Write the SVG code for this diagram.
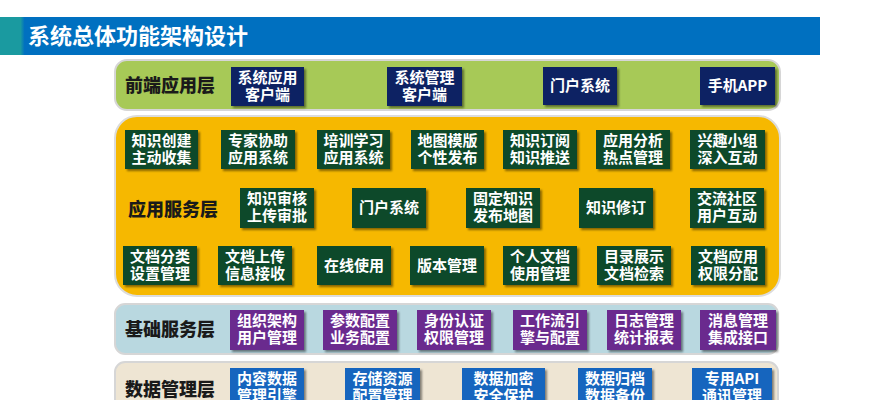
<svg xmlns="http://www.w3.org/2000/svg" width="889" height="400" viewBox="0 0 889 400">
<defs>
<filter id="sh" x="-10%" y="-10%" width="130%" height="130%">
<feDropShadow dx="2" dy="2" stdDeviation="1.2" flood-color="#000" flood-opacity="0.45"/>
</filter>
<linearGradient id="tg" x1="0" x2="1" y1="0" y2="0">
<stop offset="0" stop-color="#1A9AA0"/>
<stop offset="0.025" stop-color="#1A9AA0"/>
<stop offset="0.03" stop-color="#0070C0"/>
<stop offset="1" stop-color="#0070C0"/>
</linearGradient>
</defs>
<style>
text{font-family:"Noto Sans CJK SC","Noto Sans",sans-serif;font-weight:bold}
.t{fill:#fff;font-size:15px;text-anchor:middle}
.lab{fill:#1a1a1a;font-size:18px;font-weight:900}
.nv{fill:#0B2363}
.gr{fill:#0F4A2C}
.pu{fill:#6A2C8E}
.bl{fill:#1765BE}
.b{filter:url(#sh)}
</style>
<rect width="889" height="400" fill="#fff"/>
<g id="title">
<rect x="0" y="17" width="820" height="38" fill="url(#tg)"/>
<text x="28" y="44" fill="#fff" style="font-size:22px">系统总体功能架构设计</text>
</g>
<g id="connectors"></g>
<g id="layer-front">
<rect x="115" y="60" width="665" height="50" rx="12" fill="#A7C957" stroke="#d6d6d6" stroke-width="2"/>
<text class="lab" x="125" y="92">前端应用层</text>
</g>
<g id="layer-app">
<rect x="115" y="116" width="665" height="180" rx="22" fill="#F6B800" stroke="#dcdcdc" stroke-width="2"/>
<text class="lab" x="128" y="216">应用服务层</text>
</g>
<g id="layer-base">
<rect x="115" y="304" width="663" height="50" rx="10" fill="#B9D8E0" stroke="#d6d6d6" stroke-width="2"/>
<text class="lab" x="125" y="336">基础服务层</text>
</g>
<g id="layer-data">
<rect x="115" y="362" width="663" height="50" rx="10" fill="#EEE5D3" stroke="#d6d6d6" stroke-width="2"/>
<text class="lab" x="125" y="396">数据管理层</text>
</g>
<g id="f1"><rect class="b nv" x="231" y="67" width="73" height="39"/><text class="t" x="267.5" y="83">系统应用</text><text class="t" x="267.5" y="100">客户端</text></g>
<g id="f2"><rect class="b nv" x="387" y="67" width="75" height="39"/><text class="t" x="424.5" y="83">系统管理</text><text class="t" x="424.5" y="100">客户端</text></g>
<g id="f3"><rect class="b nv" x="543" y="67" width="74" height="38"/><text class="t" x="580" y="91">门户系统</text></g>
<g id="f4"><rect class="b nv" x="700" y="67" width="75" height="38"/><text class="t" x="737.5" y="91">手机APP</text></g>
<g id="a1"><rect class="b gr" x="125" y="130" width="73" height="39"/><text class="t" x="161.5" y="146">知识创建</text><text class="t" x="161.5" y="163">主动收集</text></g>
<g id="a2"><rect class="b gr" x="221" y="130" width="74" height="39"/><text class="t" x="258" y="146">专家协助</text><text class="t" x="258" y="163">应用系统</text></g>
<g id="a3"><rect class="b gr" x="317" y="130" width="73" height="39"/><text class="t" x="353.5" y="146">培训学习</text><text class="t" x="353.5" y="163">应用系统</text></g>
<g id="a4"><rect class="b gr" x="411" y="130" width="73" height="39"/><text class="t" x="447.5" y="146">地图模版</text><text class="t" x="447.5" y="163">个性发布</text></g>
<g id="a5"><rect class="b gr" x="503" y="130" width="74" height="39"/><text class="t" x="540" y="146">知识订阅</text><text class="t" x="540" y="163">知识推送</text></g>
<g id="a6"><rect class="b gr" x="596" y="130" width="74" height="39"/><text class="t" x="633" y="146">应用分析</text><text class="t" x="633" y="163">热点管理</text></g>
<g id="a7"><rect class="b gr" x="690" y="130" width="75" height="39"/><text class="t" x="727.5" y="146">兴趣小组</text><text class="t" x="727.5" y="163">深入互动</text></g>
<g id="a8"><rect class="b gr" x="240" y="188" width="74" height="40"/><text class="t" x="277" y="204">知识审核</text><text class="t" x="277" y="221">上传审批</text></g>
<g id="a9"><rect class="b gr" x="352" y="188" width="74" height="40"/><text class="t" x="389" y="213">门户系统</text></g>
<g id="a10"><rect class="b gr" x="466" y="188" width="74" height="40"/><text class="t" x="503" y="204">固定知识</text><text class="t" x="503" y="221">发布地图</text></g>
<g id="a11"><rect class="b gr" x="579" y="188" width="74" height="40"/><text class="t" x="616" y="213">知识修订</text></g>
<g id="a12"><rect class="b gr" x="690" y="188" width="74" height="40"/><text class="t" x="727" y="204">交流社区</text><text class="t" x="727" y="221">用户互动</text></g>
<g id="a13"><rect class="b gr" x="123" y="246" width="74" height="39"/><text class="t" x="160" y="262">文档分类</text><text class="t" x="160" y="279">设置管理</text></g>
<g id="a14"><rect class="b gr" x="218" y="246" width="74" height="39"/><text class="t" x="255" y="262">文档上传</text><text class="t" x="255" y="279">信息接收</text></g>
<g id="a15"><rect class="b gr" x="317" y="246" width="74" height="39"/><text class="t" x="354" y="271">在线使用</text></g>
<g id="a16"><rect class="b gr" x="410" y="246" width="74" height="39"/><text class="t" x="447" y="271">版本管理</text></g>
<g id="a17"><rect class="b gr" x="503" y="246" width="74" height="39"/><text class="t" x="540" y="262">个人文档</text><text class="t" x="540" y="279">使用管理</text></g>
<g id="a18"><rect class="b gr" x="597" y="246" width="74" height="39"/><text class="t" x="634" y="262">目录展示</text><text class="t" x="634" y="279">文档检索</text></g>
<g id="a19"><rect class="b gr" x="691" y="246" width="74" height="39"/><text class="t" x="728" y="262">文档应用</text><text class="t" x="728" y="279">权限分配</text></g>
<g id="b1"><rect class="b pu" x="230" y="310" width="74" height="40"/><text class="t" x="267" y="326">组织架构</text><text class="t" x="267" y="343">用户管理</text></g>
<g id="b2"><rect class="b pu" x="323" y="310" width="74" height="40"/><text class="t" x="360" y="326">参数配置</text><text class="t" x="360" y="343">业务配置</text></g>
<g id="b3"><rect class="b pu" x="417" y="310" width="74" height="40"/><text class="t" x="454" y="326">身份认证</text><text class="t" x="454" y="343">权限管理</text></g>
<g id="b4"><rect class="b pu" x="513" y="310" width="74" height="40"/><text class="t" x="550" y="326">工作流引</text><text class="t" x="550" y="343">擎与配置</text></g>
<g id="b5"><rect class="b pu" x="607" y="310" width="74" height="40"/><text class="t" x="644" y="326">日志管理</text><text class="t" x="644" y="343">统计报表</text></g>
<g id="b6"><rect class="b pu" x="700" y="310" width="76" height="40"/><text class="t" x="738" y="326">消息管理</text><text class="t" x="738" y="343">集成接口</text></g>
<g id="d1"><rect class="b bl" x="230" y="368" width="74" height="40"/><text class="t" x="267" y="384">内容数据</text><text class="t" x="267" y="401">管理引擎</text></g>
<g id="d2"><rect class="b bl" x="345" y="368" width="75" height="40"/><text class="t" x="382.5" y="384">存储资源</text><text class="t" x="382.5" y="401">配置管理</text></g>
<g id="d3"><rect class="b bl" x="462" y="368" width="83" height="40"/><text class="t" x="503.5" y="384">数据加密</text><text class="t" x="503.5" y="401">安全保护</text></g>
<g id="d4"><rect class="b bl" x="578" y="368" width="74" height="40"/><text class="t" x="615" y="384">数据归档</text><text class="t" x="615" y="401">数据备份</text></g>
<g id="d5"><rect class="b bl" x="692" y="368" width="80" height="40"/><text class="t" x="732" y="384">专用API</text><text class="t" x="732" y="401">通讯管理</text></g>
</svg>
